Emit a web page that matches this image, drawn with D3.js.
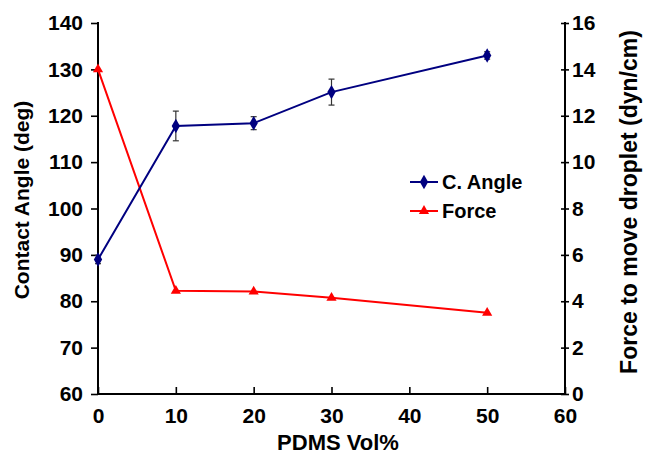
<!DOCTYPE html>
<html><head><meta charset="utf-8">
<script src="https://cdn.jsdelivr.net/npm/d3@7"></script>
<style>body{margin:0;background:#fff}svg{display:block}text{font-family:Arial,"Liberation Sans",sans-serif;font-weight:bold}</style>
</head><body>
<svg id="c" width="645" height="454"></svg>
<script>
const pdms = [0, 10, 20, 30, 50];
const angle = [89, 117.8, 118.4, 125.1, 133];
const angleErr = [0.9, 3.2, 1.4, 2.8, 0.8];
const force = [14.0, 4.45, 4.42, 4.15, 3.5];
const xTicks = [0, 10, 20, 30, 40, 50, 60];
const yLeftTicks = [60, 70, 80, 90, 100, 110, 120, 130, 140];
const yRightTicks = [0, 2, 4, 6, 8, 10, 12, 14, 16];
const seriesNames = ["C. Angle", "Force"];

const svg = d3.select("#c");
const L = 98, R = 565, T = 23, B = 394;
const x = d3.scaleLinear().domain([0, 60]).range([L, R]);
const yl = d3.scaleLinear().domain([60, 140]).range([B, T]);
const yr = d3.scaleLinear().domain([0, 16]).range([B, T]);

// axes
const gx = svg.append("g").attr("transform", `translate(0,${B})`)
  .call(d3.axisBottom(x).tickValues(xTicks).tickSizeInner(-7).tickSizeOuter(0).tickPadding(16));
const gl = svg.append("g").attr("transform", `translate(${L},0)`)
  .call(d3.axisLeft(yl).tickValues(yLeftTicks).tickSizeInner(7).tickSizeOuter(0).tickPadding(8));
const gr = svg.append("g").attr("transform", `translate(${R},0)`)
  .call(d3.axisRight(yr).tickValues(yRightTicks).tickSizeInner(4).tickSizeOuter(0).tickPadding(3));
gr.selectAll(".tick line").attr("x1", -4);
[gx, gl, gr].forEach(g => {
  g.select(".domain").attr("stroke", "#000").attr("stroke-width", 2);
  g.selectAll(".tick line").attr("stroke", "#000").attr("stroke-width", 1.6);
  g.selectAll(".tick text").attr("fill", "#000").style("font-size", "21px");
});
gl.select(".domain").attr("d", `M0,${T - 1}V${B + 1}`);
gr.select(".domain").attr("d", `M0,${T - 1}V${B + 1}`);
gx.select(".domain").attr("d", `M${L - 1},0H${R + 1}`);
gx.selectAll(".tick text").attr("dy", "0.35em").attr("y", 22);

// titles
svg.append("text").attr("transform", `translate(29,200) rotate(-90)`)
  .attr("text-anchor", "middle").style("font-size", "21px").text("Contact Angle (deg)");
svg.append("text").attr("transform", `translate(637,202) rotate(-90)`)
  .attr("text-anchor", "middle").style("font-size", "23px").text("Force to move droplet (dyn/cm)");
svg.append("text").attr("x", 338).attr("y", 450)
  .attr("text-anchor", "middle").style("font-size", "22px").text("PDMS Vol%");

const navy = "#000080", red = "#ff0000";
const ang = pdms.map((p, i) => ({ p, v: angle[i], e: angleErr[i] }));
const frc = pdms.map((p, i) => ({ p, v: force[i] }));

// error bars
const eb = svg.append("g").attr("stroke", "#333").attr("stroke-width", 1.2);
ang.forEach(d => {
  eb.append("line").attr("x1", x(d.p)).attr("x2", x(d.p)).attr("y1", yl(d.v - d.e)).attr("y2", yl(d.v + d.e));
  [d.v - d.e, d.v + d.e].forEach(v => eb.append("line").attr("x1", x(d.p) - 3).attr("x2", x(d.p) + 3).attr("y1", yl(v)).attr("y2", yl(v)));
});

// force line
svg.append("path").datum(frc).attr("fill", "none").attr("stroke", red).attr("stroke-width", 2)
  .attr("d", d3.line().x(d => x(d.p)).y(d => yr(d.v)));
const tri = d3.symbol().type(d3.symbolTriangle).size(45);
svg.selectAll(".tri").data(frc).join("path").attr("fill", red)
  .attr("transform", d => `translate(${x(d.p)},${yr(d.v)})`).attr("d", tri);

// angle line
svg.append("path").datum(ang).attr("fill", "none").attr("stroke", navy).attr("stroke-width", 2)
  .attr("d", d3.line().x(d => x(d.p)).y(d => yl(d.v)));
const dia = d3.symbol().type(d3.symbolDiamond).size(60);
svg.selectAll(".dia").data(ang).join("path").attr("fill", navy)
  .attr("transform", d => `translate(${x(d.p)},${yl(d.v)})`).attr("d", dia);

// legend
const lg = svg.append("g");
[[navy, dia, 182], [red, tri, 211]].forEach(([c, s, y], i) => {
  lg.append("line").attr("x1", 410).attr("x2", 438).attr("y1", y).attr("y2", y).attr("stroke", c).attr("stroke-width", 2);
  lg.append("path").attr("d", s).attr("fill", c).attr("transform", `translate(424,${y})`);
  lg.append("text").attr("x", 442).attr("y", y).attr("dy", "0.35em").style("font-size", "20px").text(seriesNames[i]);
});
</script>
</body></html>
